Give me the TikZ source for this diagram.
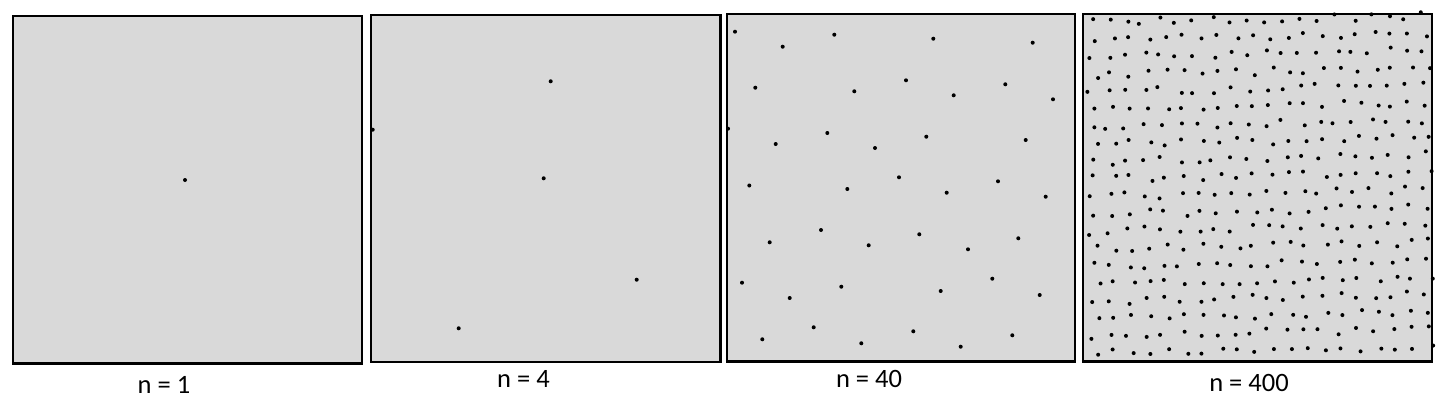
\documentclass[tikz,border=0pt]{standalone}
\usepackage{fontspec}
\setmainfont{Carlito}
\begin{document}
\begin{tikzpicture}[x=1pt,y=-1pt,
  panel/.style={draw=black,line width=2.2pt,fill=panelgray},
  dot/.style={fill=black,draw=none},
  lbl/.style={anchor=base,inner sep=0pt,font=\fontsize{26.5}{30}\selectfont}]
\definecolor{panelgray}{HTML}{D9D9D9}
\useasboundingbox (0,0) rectangle (1446,407);
% panels
\draw[panel] (13,16) rectangle (362,363.5);
\draw[panel] (371,15) rectangle (720.5,362);
\draw[panel] (727,14) rectangle (1075,361.5);
\draw[panel,line width=2.7pt] (1083,14) rectangle (1432,361.5);
% n = 1
\fill[dot] (185,180) circle (2);
% n = 4
\foreach \p in {(550.7,81.3),(372.7,129.7),(543.7,178.3),(636.7,279.7),(458.7,328.3)}
  \fill[dot] \p circle (2);
% n = 40
\foreach \p in {(735,31.7),(782.7,46.7),(834.3,34.7),(933.3,38.7),(1032.7,42.7),
  (755.3,87.7),(854.3,91.3),(906,80.3),(953.7,95.3),(1005.3,84.3),(1053,99.3),
  (728,128.7),(827.3,133),(775.7,144),(875,148),(926.3,136.7),(1025.7,140),
  (899,177.3),(749.3,185.5),(998,181.3),(847.3,189),
  (946.7,192.7),(1045.7,196.7),(821,230),(769.7,242.3),(868.7,245.3),(919.3,234.3),
  (968,249.3),(1018.3,238.3),(742,282.7),(789.7,298),(841.3,286.7),(940.7,291),
  (992.3,278.7),(1039.7,295),(813.7,327.3),(762.3,339.3),(861.3,343.3),(913.3,331.3),
  (960.7,346.7),(1012.3,335.3)}
  \fill[dot] \p circle (2);
% n = 400
\pgfmathsetseed{4711}
\foreach \i in {0,...,19}{
  \foreach \j in {0,...,19}{
    \pgfmathsetmacro\px{1083+7+17.5*\i+4.5*mod(\j,2)+0.2*\j+3.8*rand}
    \pgfmathsetmacro\py{14+8.5+17.4*\j-0.35*\i+3.8*rand}
    \fill[dot] (\px,\py) circle (2);
  }
}
% labels
\node[lbl] (l1) at (164,393) {n = 1};
\node[lbl] (l2) at (523.5,387.3) {n = 4};
\node[lbl] (l3) at (869,387.3) {n = 40};
\node[lbl] (l4) at (1249,391.7) {n = 400};
\end{tikzpicture}
\end{document}
